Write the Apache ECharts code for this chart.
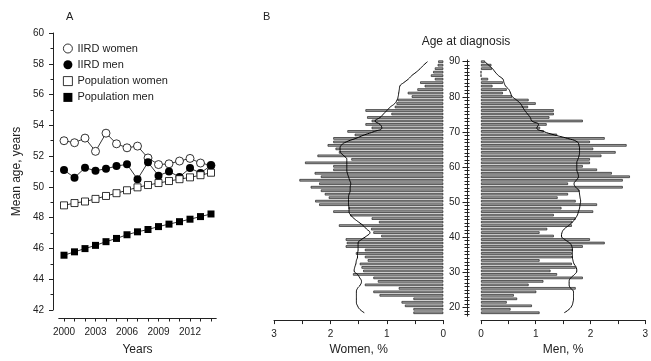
<!DOCTYPE html>
<html>
<head>
<meta charset="utf-8">
<script src="https://cdn.jsdelivr.net/npm/echarts@6/dist/echarts.min.js"></script>
<style>
html, body { margin: 0; padding: 0; background: #fff; }
#chart { width: 651px; height: 361px; }
</style>
</head>
<body>
<div id="chart"></div>
<script>
// panel A
var years = ['2000', '2001', '2002', '2003', '2004', '2005', '2006', '2007',
  '2008', '2009', '2010', '2011', '2012', '2013', '2014']
var iirdWomen = [53.0, 52.87, 53.17, 52.31, 53.49, 52.8, 52.54, 52.65, 51.88, 51.45, 51.5, 51.68, 51.85, 51.55, 51.4]
var iirdMen = [51.09, 50.6, 51.24, 51.05, 51.18, 51.35, 51.47, 50.5, 51.6, 50.73, 51.0, 50.65, 51.22, 50.9, 51.4]
var popWomen = [48.8, 48.95, 49.05, 49.22, 49.41, 49.59, 49.78, 49.97, 50.12, 50.25, 50.38, 50.5, 50.62, 50.76, 50.92]
var popMen = [45.56, 45.78, 45.99, 46.2, 46.44, 46.65, 46.89, 47.08, 47.23, 47.42, 47.58, 47.74, 47.9, 48.07, 48.24]

// panel B, ages 18..90
var ages = ['18', '19', '20', '21', '22', '23', '24', '25', '26', '27',
  '28', '29', '30', '31', '32', '33', '34', '35', '36', '37',
  '38', '39', '40', '41', '42', '43', '44', '45', '46', '47',
  '48', '49', '50', '51', '52', '53', '54', '55', '56', '57',
  '58', '59', '60', '61', '62', '63', '64', '65', '66', '67',
  '68', '69', '70', '71', '72', '73', '74', '75', '76', '77',
  '78', '79', '80', '81', '82', '83', '84', '85', '86', '87',
  '88', '89', '90']
var womenPct = [0.53, 0.53, 0.68, 0.74, 0.53, 1.13, 1.24, 0.79, 1.39, 1.16,
  1.24, 1.60, 1.42, 1.45, 1.48, 1.34, 1.39, 1.55, 1.39, 1.73,
  1.71, 1.73, 1.10, 1.24, 1.28, 1.85, 1.14, 1.27, 1.65, 1.95,
  1.68, 2.20, 2.27, 2.03, 2.10, 2.17, 2.35, 2.20, 2.55, 2.17,
  2.28, 1.95, 1.95, 2.45, 1.63, 2.23, 1.85, 1.91, 2.05, 1.95,
  1.95, 1.57, 1.70, 1.27, 1.38, 1.27, 1.35, 0.92, 1.38, 0.86,
  0.83, 0.81, 0.56, 0.63, 0.46, 0.33, 0.41, 0.15, 0.22, 0.18,
  0.15, 0.10, 0.09]
var womenPop = [1.40, 1.48, 1.52, 1.54, 1.54, 1.54, 1.54, 1.52, 1.47, 1.45,
  1.48, 1.52, 1.58, 1.57, 1.55, 1.54, 1.52, 1.52, 1.51, 1.51,
  1.51, 1.45, 1.36, 1.30, 1.36, 1.42, 1.50, 1.58, 1.64, 1.67,
  1.67, 1.68, 1.68, 1.68, 1.67, 1.65, 1.65, 1.64, 1.66, 1.68,
  1.70, 1.71, 1.71, 1.71, 1.71, 1.76, 1.82, 1.83, 1.81, 1.72,
  1.55, 1.40, 1.22, 1.09, 1.12, 1.21, 1.12, 1.06, 1.00, 0.94,
  0.86, 0.82, 0.80, 0.79, 0.78, 0.77, 0.70, 0.62, 0.56, 0.48,
  0.41, 0.35, 0.28]
var menPct = [1.07, 0.54, 0.93, 0.47, 0.66, 0.60, 1.01, 1.73, 0.87, 1.14,
  1.86, 1.39, 1.27, 1.73, 1.66, 1.07, 1.66, 1.66, 1.67, 1.86,
  2.26, 1.99, 1.33, 1.07, 1.21, 1.66, 1.67, 1.73, 1.33, 2.05,
  1.47, 2.12, 1.73, 1.40, 1.59, 1.80, 2.59, 1.59, 2.59, 2.72,
  2.39, 2.12, 1.86, 1.99, 1.99, 2.20, 2.46, 2.05, 2.66, 1.99,
  2.26, 1.39, 1.15, 1.08, 1.20, 1.86, 1.25, 1.33, 1.33, 0.86,
  1.00, 0.87, 0.57, 0.40, 0.47, 0.21, 0.40, 0.13, 0, 0,
  0.20, 0.19, 0.07]
var menPop = [1.52, 1.61, 1.66, 1.68, 1.69, 1.69, 1.69, 1.64, 1.61, 1.61,
  1.64, 1.71, 1.75, 1.74, 1.70, 1.68, 1.67, 1.67, 1.67, 1.66,
  1.62, 1.53, 1.47, 1.48, 1.52, 1.60, 1.67, 1.72, 1.76, 1.78,
  1.80, 1.81, 1.82, 1.81, 1.80, 1.79, 1.73, 1.70, 1.74, 1.78,
  1.77, 1.75, 1.75, 1.75, 1.77, 1.79, 1.80, 1.80, 1.79, 1.76,
  1.58, 1.34, 1.14, 1.02, 1.05, 0.93, 0.90, 0.85, 0.80, 0.76,
  0.72, 0.65, 0.57, 0.54, 0.51, 0.45, 0.42, 0.40, 0.32, 0.26,
  0.21, 0.14, 0.07]

var font = 'Liberation Sans, Arial, sans-serif'
var ink = '#222'
var tenYears = function (index, value) {
  return Number(value) % 10 === 0
}

var myChart = echarts.init(document.getElementById('chart'))

var barTop = 59.95
var barHeight = 256.2

function pctAxis(grid, name, inverse) {
  return {
    gridIndex: grid,
    type: 'value',
    min: 0,
    max: 3,
    interval: 1,
    inverse: inverse,
    offset: 5.6,
    name: name,
    nameLocation: 'middle',
    nameGap: 21,
    nameTextStyle: { color: ink, fontSize: 12, fontFamily: font },
    axisLine: { show: true, lineStyle: { color: ink, width: 1 } },
    axisTick: { show: true, length: 4, lineStyle: { color: ink } },
    minorTick: { show: true, splitNumber: 2, length: 4, lineStyle: { color: ink } },
    splitLine: { show: false },
    axisLabel: { color: ink, fontSize: 10, fontFamily: font, margin: 9 },
  }
}

function ageAxis(grid) {
  return {
    gridIndex: grid,
    type: 'category',
    data: ages,
    show: false,
  }
}

function midAxis(opt) {
  return Object.assign({
    gridIndex: 3,
    type: 'category',
    data: ages,
    position: 'left',
    axisLine: { show: false },
    axisTick: { show: false },
    axisLabel: { show: false },
    splitLine: { show: false },
  }, opt)
}

function yearLine(name, data, symbol, size, filled) {
  return {
    name: name,
    type: 'line',
    data: data,
    symbol: symbol,
    symbolSize: size,
    showAllSymbol: true,
    lineStyle: { color: '#000', width: 0.8 },
    itemStyle: filled
      ? { color: '#000' }
      : { color: '#fff', borderColor: '#000', borderWidth: 0.8 },
  }
}

var barStyle = { color: '#a0a0a0', borderColor: '#222', borderWidth: 0.7 }

myChart.setOption({
  animation: false,
  textStyle: { fontFamily: font },
  title: [
    { text: 'A', left: 61, top: 6, textStyle: { fontSize: 11, fontWeight: 'normal', color: ink } },
    { text: 'B', left: 258, top: 6, textStyle: { fontSize: 11, fontWeight: 'normal', color: ink } },
    { text: 'Age at diagnosis', left: 461, top: 31, textAlign: 'center',
      textStyle: { fontSize: 12, fontWeight: 'normal', color: ink } },
  ],
  legend: {
    orient: 'vertical',
    left: 58,
    top: 38,
    itemWidth: 9,
    itemHeight: 9,
    itemGap: 5.3,
    textStyle: { color: ink, fontSize: 11, fontFamily: font },
    data: [
      { name: 'IIRD women', icon: 'circle', itemStyle: { color: '#fff', borderColor: '#000', borderWidth: 0.8 } },
      { name: 'IIRD men', icon: 'circle', itemStyle: { color: '#000' } },
      { name: 'Population women', icon: 'rect', itemStyle: { color: '#fff', borderColor: '#000', borderWidth: 0.8 } },
      { name: 'Population men', icon: 'rect', itemStyle: { color: '#000' } },
    ],
  },
  grid: [
    { left: 58.75, top: 33, width: 157.5, height: 280 },
    { left: 274, top: barTop, width: 169.3, height: barHeight },
    { left: 481, top: barTop, width: 169, height: barHeight },
    { left: 467, top: barTop, width: 8, height: barHeight },
  ],
  xAxis: [
    {
      gridIndex: 0,
      type: 'category',
      data: years,
      boundaryGap: true,
      offset: 8,
      name: 'Years',
      nameLocation: 'middle',
      nameGap: 26,
      nameTextStyle: { color: ink, fontSize: 12, fontFamily: font },
      axisLine: { show: true, lineStyle: { color: ink, width: 1 } },
      axisTick: { show: true, interval: 0, alignWithLabel: true, length: 3.5, lineStyle: { color: ink } },
      axisLabel: { interval: 2, color: ink, fontSize: 10, fontFamily: font, margin: 9 },
    },
    pctAxis(1, 'Women, %', true),
    pctAxis(2, 'Men, %', false),
    { gridIndex: 3, type: 'value', min: 0, max: 1, show: false },
  ],
  yAxis: [
    {
      gridIndex: 0,
      type: 'value',
      min: 42,
      max: 60,
      interval: 2,
      offset: 5.75,
      name: 'Mean age, years',
      nameLocation: 'middle',
      nameGap: 30,
      nameTextStyle: { color: ink, fontSize: 12, fontFamily: font },
      axisLine: { show: true, lineStyle: { color: ink, width: 1 } },
      axisTick: { show: true, length: 4, lineStyle: { color: ink } },
      minorTick: { show: true, splitNumber: 2, length: 2.5, lineStyle: { color: ink } },
      splitLine: { show: false },
      axisLabel: { color: ink, fontSize: 10, fontFamily: font, margin: 9 },
    },
    ageAxis(1),
    ageAxis(2),
    // middle age axis: line, short ticks on both sides, long ticks at tens
    midAxis({
      axisLine: { show: true, lineStyle: { color: ink, width: 1 } },
      axisTick: { show: true, interval: 0, alignWithLabel: true, length: 2.5, lineStyle: { color: ink } },
      axisLabel: { show: true, interval: tenYears, color: ink, fontSize: 10, fontFamily: font, margin: 7 },
    }),
    midAxis({
      axisTick: { show: true, inside: true, interval: 0, alignWithLabel: true, length: 2.5, lineStyle: { color: ink } },
    }),
    midAxis({
      axisTick: { show: true, interval: tenYears, alignWithLabel: true, length: 4.5, lineStyle: { color: ink } },
    }),
  ],
  series: [
    yearLine('IIRD women', iirdWomen, 'circle', 8, false),
    yearLine('IIRD men', iirdMen, 'circle', 8, true),
    yearLine('Population women', popWomen, 'rect', 7, false),
    yearLine('Population men', popMen, 'rect', 7, true),
    {
      name: 'Women',
      type: 'bar',
      xAxisIndex: 1,
      yAxisIndex: 1,
      data: womenPct,
      barWidth: '72%',
      itemStyle: barStyle,
    },
    {
      name: 'Women population',
      type: 'line',
      xAxisIndex: 1,
      yAxisIndex: 1,
      data: womenPop,
      smooth: true,
      showSymbol: false,
      lineStyle: { color: '#000', width: 1 },
    },
    {
      name: 'Men',
      type: 'bar',
      xAxisIndex: 2,
      yAxisIndex: 2,
      data: menPct,
      barWidth: '72%',
      itemStyle: barStyle,
    },
    {
      name: 'Men population',
      type: 'line',
      xAxisIndex: 2,
      yAxisIndex: 2,
      data: menPop,
      smooth: true,
      showSymbol: false,
      lineStyle: { color: '#000', width: 1 },
    },
  ],
})
</script>
</body>
</html>
